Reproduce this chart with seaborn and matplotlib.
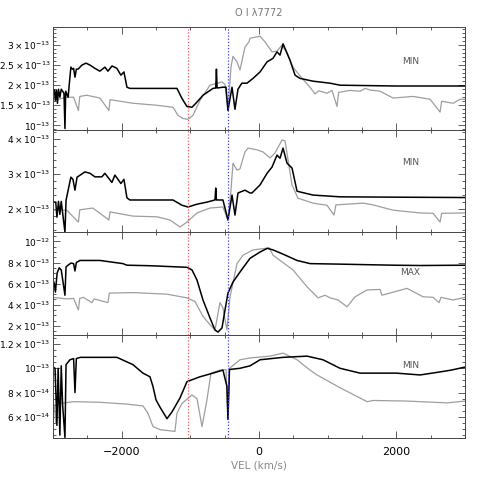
import numpy as np
import pandas as pd
import seaborn as sns
import matplotlib
matplotlib.use("Agg")
import matplotlib.pyplot as plt
from matplotlib.ticker import FixedLocator, MultipleLocator

# ---- data (velocity in km/s, flux in units noted per panel) ----
title = "O I λ7772"
panel_states = ["MIN", "MIN", "MAX", "MIN"]
v_red = -1040
v_blue = -455

# panel 1 (x1e-13)
p1_black_vel = [-3000, -2980, -2965, -2950, -2935, -2920, -2900, -2880, -2860, -2840, -2826, -2815, -2780, -2740, -2720, -2700,
                -2680, -2660, -2635, -2580, -2520, -2460, -2390, -2317, -2244, -2200, -2140, -2070, -2011, -1967, -1923,
                -1880, -1500, -1195, -1122, -1050, -976, -903, -816, -670, -630, -620, -610, -525, -481, -452, -393, -350,
                -306, -250, -175, -87, 15, 117, 204, 262, 306, 350, 408, 452, 525, 597, 787, 1035, 1180, 2000, 3000]
p1_black_flux = [1.90, 1.88, 1.62, 1.88, 1.55, 1.90, 1.70, 1.90, 1.85, 1.80, 0.92, 1.85, 1.70, 2.45, 2.40, 2.42,
                 2.20, 2.40, 2.40, 2.50, 2.55, 2.50, 2.42, 2.35, 2.45, 2.35, 2.48, 2.42, 2.25, 2.33, 1.95,
                 1.92, 1.92, 1.92, 1.67, 1.47, 1.45, 1.58, 1.75, 1.92, 1.93, 2.40, 1.93, 1.95, 1.95, 1.37, 1.95, 1.40,
                 1.90, 2.05, 2.05, 2.17, 2.33, 2.58, 2.67, 2.83, 2.75, 3.03, 2.80, 2.62, 2.25, 2.17, 2.10, 2.05, 2.00, 1.98, 1.98]
p1_gray_vel = [-3000, -2900, -2800, -2700, -2630, -2610, -2510, -2317, -2186, -2170, -1836, -1486, -1253, -1180, -1107,
               -1034, -961, -860, -714, -539, -495, -452, -408, -379, -320, -277, -204, -146, -131, 15, 87, 190, 262,
               335, 408, 495, 627, 743, 816, 870, 990, 1063, 1136, 1160, 1326, 1472, 1545, 1617, 1763, 1952, 2244,
               2492, 2637, 2660, 2827, 2929, 3000]
p1_gray_flux = [1.65, 1.66, 1.70, 1.70, 1.37, 1.72, 1.75, 1.68, 1.37, 1.64, 1.55, 1.50, 1.45, 1.25, 1.17,
                1.15, 1.25, 1.62, 2.00, 2.08, 2.02, 1.37, 2.45, 2.72, 2.58, 2.38, 2.95, 3.08, 3.17, 3.22, 3.08, 2.83, 2.85,
                3.00, 2.80, 2.45, 2.17, 1.95, 1.78, 1.86, 1.80, 1.87, 1.47, 1.82, 1.87, 1.85, 1.92, 1.88, 1.85, 1.68, 1.72,
                1.65, 1.33, 1.60, 1.55, 1.65, 1.65]

# panel 2 (x1e-13)
p2_black_vel = [-3000, -2960, -2943, -2920, -2900, -2880, -2826, -2810, -2740, -2710, -2680, -2650, -2535, -2460, -2390,
                -2288, -2244, -2142, -2098, -2011, -1967, -1923, -1880, -1253, -1122, -1034, -903, -758, -641, -630,
                -620, -525, -452, -393, -350, -306, -204, -131, -102, 15, 117, 190, 262, 306, 350, 408, 481, 554, 787,
                1180, 2000, 3000]
p2_black_flux = [2.20, 2.20, 1.77, 2.22, 1.85, 2.22, 1.34, 2.25, 2.91, 2.85, 2.54, 2.91, 3.06, 3.02, 2.92,
                 2.92, 3.02, 2.76, 2.97, 2.73, 2.85, 2.32, 2.26, 2.26, 2.11, 2.06, 2.14, 2.20, 2.26, 2.60,
                 2.26, 2.26, 1.69, 2.40, 1.83, 2.46, 2.54, 2.46, 2.46, 2.69, 3.02, 3.20, 3.54, 3.45, 3.74, 3.31, 3.17, 2.51, 2.40,
                 2.35, 2.34, 2.33]
p2_gray_vel = [-3000, -2800, -2630, -2610, -2420, -2186, -2170, -1836, -1486, -1297, -1151, -1049, -903, -714, -525,
               -452, -408, -379, -320, -277, -204, -160, -29, 58, 160, 233, 335, 379, 423, 481, 568, 787, 990, 1092,
               1120, 1515, 1661, 1952, 2346, 2535, 2637, 2660, 3000]
p2_gray_flux = [1.97, 1.97, 1.63, 1.98, 2.03, 1.69, 1.92, 1.80, 1.78, 1.69, 1.49, 1.63, 1.89, 2.03, 2.06,
                1.69, 2.54, 3.31, 3.11, 3.15, 3.63, 3.74, 3.69, 3.63, 3.46, 3.60, 3.97, 3.95, 3.40, 2.69, 2.31, 2.17, 2.11, 1.83,
                2.12, 2.17, 2.12, 1.97, 1.89, 1.88, 1.63, 1.88, 1.89]

# panel 3 (x1e-13)
p3_black_vel = [-3000, -2980, -2965, -2940, -2910, -2880, -2826, -2810, -2740, -2700, -2680, -2660, -2608, -2317, -1982,
                -1923, -1588, -1049, -976, -903, -816, -714, -641, -597, -539, -495, -452, -379, -277, -131, 15, 120,
                204, 350, 554, 743, 1180, 1952, 2346, 3000]
p3_black_flux = [6.34, 6.0, 5.2, 7.0, 7.5, 7.3, 4.9, 7.6, 7.95, 7.9, 7.2, 8.0, 8.2, 8.2, 7.9,
                 7.75, 7.7, 7.55, 7.3, 6.34, 4.45, 2.75, 1.6, 1.4, 1.8, 3.5, 5.1, 6.15, 7.1, 8.4, 9.0, 9.35,
                 9.2, 8.8, 8.2, 7.9, 7.85, 7.75, 7.72, 7.75]
p3_gray_vel = [-3000, -2800, -2700, -2630, -2610, -2560, -2433, -2400, -2200, -2180, -1836, -1340, -1049, -932, -816,
               -714, -641, -568, -525, -467, -423, -320, -233, -87, 150, 204, 495, 700, 860, 962, 1035, 1151, 1282,
               1399, 1574, 1763, 1790, 2156, 2390, 2535, 2622, 2650, 2827, 3000]
p3_gray_flux = [4.7, 4.55, 4.6, 3.5, 4.6, 4.7, 4.2, 4.55, 4.2, 5.1, 5.15, 5.0, 4.65, 4.3, 2.9,
                2.1, 1.6, 4.2, 3.7, 1.6, 4.7, 7.9, 8.7, 9.2, 9.4, 8.7, 7.3, 5.7, 4.65, 4.9, 4.65, 4.45, 3.8,
                4.75, 5.4, 5.45, 4.9, 5.55, 4.75, 4.7, 4.2, 4.7, 4.45, 4.7]

# panel 4 (x1e-14)
p4_black_vel = [-3000, -2970, -2943, -2925, -2900, -2880, -2860, -2826, -2810, -2753, -2700, -2680, -2660, -2600, -2069,
                -1836, -1690, -1588, -1544, -1500, -1442, -1340, -1268, -1151, -1049, -860, -670, -525, -467, -452,
                -430, -277, -131, 15, 350, 700, 932, 1180, 1472, 2000, 2346, 2637, 2800, 3000]
p4_black_flux = [10.1, 10.0, 5.3, 10.0, 4.5, 10.2, 7.0, 4.3, 10.3, 10.7, 10.8, 8.0, 10.8, 10.9, 10.9,
                 10.3, 9.6, 9.3, 8.5, 7.4, 6.8, 5.85, 6.4, 7.55, 8.9, 9.3, 9.6, 9.85, 8.5, 5.8,
                 9.9, 10.0, 10.2, 10.7, 10.9, 11.0, 10.7, 10.0, 9.6, 9.6, 9.45, 9.7, 9.85, 10.1]
p4_gray_vel = [-3000, -2980, -2960, -2940, -2900, -2700, -2317, -1923, -1690, -1617, -1544, -1442, -1224, -1195, -1122,
               -976, -903, -830, -758, -700, -568, -480, -452, -430, -277, -131, 160, 350, 554, 743, 845, 1180,
               1574, 1661, 2156, 2740, 3000]
p4_gray_flux = [7.0, 7.0, 5.5, 7.1, 7.1, 7.25, 7.2, 7.05, 6.9, 6.3, 5.2, 4.95, 4.8, 6.3, 7.1,
                7.8, 7.5, 5.2, 7.4, 9.6, 9.85, 9.9, 5.8, 10.0, 10.7, 10.85, 11.0, 11.25, 10.7, 9.85, 9.45, 8.4,
                7.25, 7.35, 7.3, 7.15, 7.3]

flux_units = [1e-13, 1e-13, 1e-13, 1e-14]
ylims = [(0.89, 3.45), (1.34, 4.27), (1.15, 10.9), (4.28, 12.74)]
yticks = [[1.0, 1.5, 2.0, 2.5, 3.0], [2, 3, 4], [2, 4, 6, 8, 10], [6, 8, 10, 12]]
yticklabels = [
    [r"$10^{-13}$", r"$1.5\times10^{-13}$", r"$2\times10^{-13}$", r"$2.5\times10^{-13}$", r"$3\times10^{-13}$"],
    [r"$2\times10^{-13}$", r"$3\times10^{-13}$", r"$4\times10^{-13}$"],
    [r"$2\times10^{-13}$", r"$4\times10^{-13}$", r"$6\times10^{-13}$", r"$8\times10^{-13}$", r"$10^{-12}$"],
    [r"$6\times10^{-14}$", r"$8\times10^{-14}$", r"$10^{-13}$", r"$1.2\times10^{-13}$"],
]
yminor = [0.1, 0.2, 0.5, 0.5]
label_y = [0.66, 0.68, 0.61, 0.70]

series = [
    (p1_black_vel, p1_black_flux, p1_gray_vel, p1_gray_flux),
    (p2_black_vel, p2_black_flux, p2_gray_vel, p2_gray_flux),
    (p3_black_vel, p3_black_flux, p3_gray_vel, p3_gray_flux),
    (p4_black_vel, p4_black_flux, p4_gray_vel, p4_gray_flux),
]

sns.set_style("ticks")
plt.rcParams['font.family'] = ['DejaVu Sans']
plt.rcParams['mathtext.fontset'] = 'dejavusans'

W = 491
fig = plt.figure(figsize=(4.91, 4.91), dpi=100)
left, right = 53, 465
tops = [27, 129.5, 232, 335]
ph = 102.75

gray = (0.62, 0.62, 0.62)

for i, (bv, bf, gv, gf) in enumerate(series):
    ax = fig.add_axes([left / W, 1 - (tops[i] + ph) / W, (right - left) / W, ph / W])
    unit = flux_units[i]
    df_g = pd.DataFrame({"vel": gv, "flux": np.array(gf) * unit})
    df_b = pd.DataFrame({"vel": bv, "flux": np.array(bf) * unit})
    sns.lineplot(data=df_g, x="vel", y="flux", ax=ax, color=gray, lw=0.9,
                 estimator=None, sort=False)
    sns.lineplot(data=df_b, x="vel", y="flux", ax=ax, color="black", lw=1.1,
                 estimator=None, sort=False)
    ax.axvline(v_red, color=(1.0, 0.35, 0.35), ls=(0, (1, 1.5)), lw=0.9)
    ax.axvline(v_blue, color=(0.25, 0.25, 0.95), ls=(0, (1, 1.5)), lw=0.9)

    ax.set_xlim(-3000, 3000)
    lo, hi = ylims[i]
    ax.set_ylim(lo * unit, hi * unit)
    ax.yaxis.set_major_locator(FixedLocator([t * unit for t in yticks[i]]))
    ax.set_yticklabels(yticklabels[i])
    ax.yaxis.set_minor_locator(MultipleLocator(yminor[i] * unit))
    ax.xaxis.set_major_locator(MultipleLocator(2000))
    ax.xaxis.set_minor_locator(MultipleLocator(500))
    ax.tick_params(which="both", direction="in", top=True, right=True,
                   colors="#444444", width=0.6)
    ax.tick_params(which="major", length=5)
    ax.tick_params(which="minor", length=2.5)
    ax.tick_params(axis="y", labelsize=6.5, labelcolor="black", pad=2)
    ax.tick_params(axis="x", labelsize=8, labelcolor="black", pad=7)
    for s in ax.spines.values():
        s.set_color("#444444")
        s.set_linewidth(0.7)
    ax.set_xlabel("")
    ax.set_ylabel("")
    if i < 3:
        ax.set_xticklabels([])
    ax.text(0.867, label_y[i], panel_states[i], transform=ax.transAxes,
            ha="center", va="center", fontsize=6.5, color="#555555")

fig.text(259 / W, 1 - 13 / W, title, ha="center", va="center", fontsize=7, color="#777777")
fig.text(259 / W, 1 - 466 / W, "VEL (km/s)", ha="center", va="center", fontsize=7.5, color="#888888")

fig.savefig("out.png", dpi=100)
